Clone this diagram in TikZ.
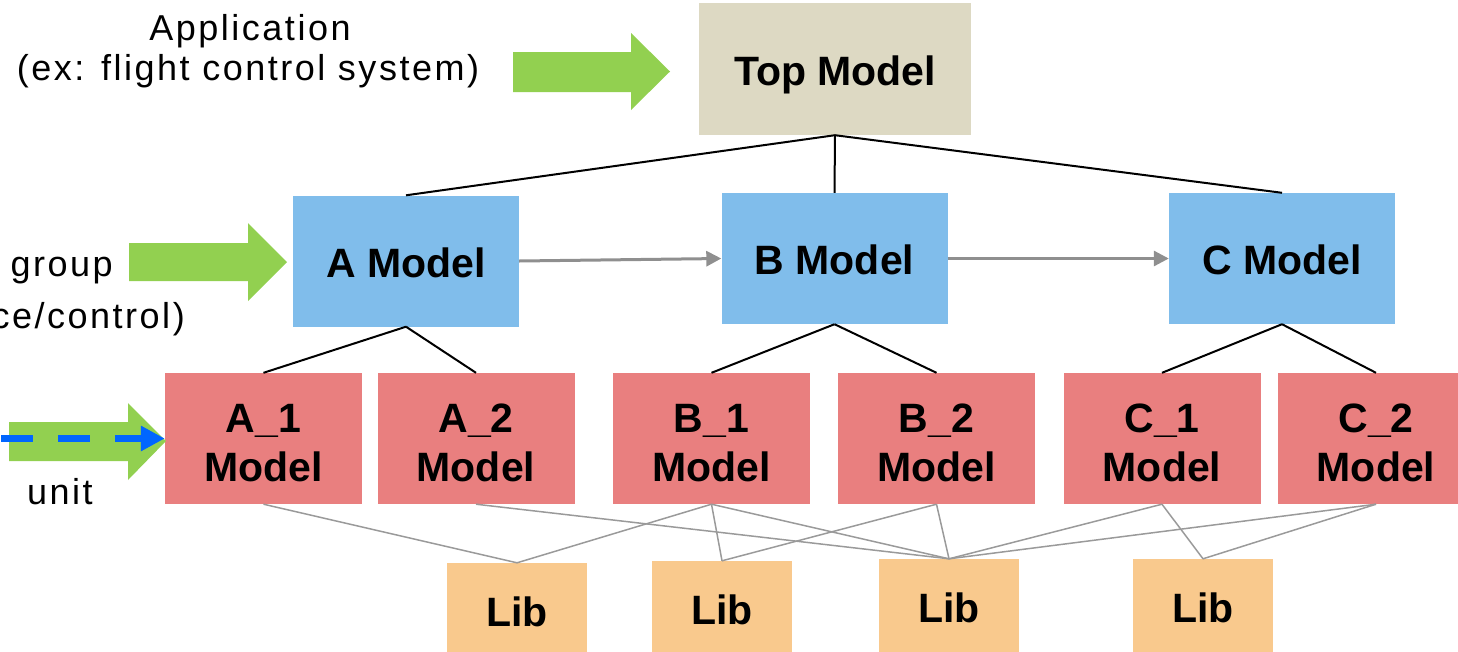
\documentclass[tikz,border=0pt]{standalone}
\usepackage{fontspec}
\setmainfont{Liberation Sans}
\newfontfamily\notefont[LetterSpace=7]{Liberation Sans}
\usetikzlibrary{arrows.meta}

\definecolor{topfill}{HTML}{DDD9C3}
\definecolor{grpfill}{HTML}{80BDEB}
\definecolor{unitfill}{HTML}{E97F7F}
\definecolor{libfill}{HTML}{F9C98D}
\definecolor{flowgreen}{HTML}{92D050}
\definecolor{flowblue}{HTML}{0066FF}
\definecolor{callgray}{HTML}{8F8F8F}
\definecolor{linkgray}{HTML}{9A9A9A}

\begin{document}
\begin{tikzpicture}[x=1pt,y=-1pt,
  box/.style={rectangle, inner sep=0pt, align=center,
    font=\fontsize{41}{49}\selectfont\bfseries},
  onebox/.style={box, text height=32pt, text depth=0pt},
  twobox/.style={box, text height=85pt, text depth=0pt},
  topbox/.style={onebox, fill=topfill, minimum width=272pt, minimum height=132pt},
  grpbox/.style={onebox, fill=grpfill, minimum width=226pt, minimum height=131pt},
  unitbox/.style={twobox, fill=unitfill, minimum width=197pt, minimum height=131pt},
  libbox/.style={onebox, fill=libfill, minimum width=140pt, minimum height=94pt},
  tree/.style={black, line width=2pt},
  call/.style={callgray, line width=3pt, -{Triangle[length=15pt,width=15pt]}},
  link/.style={linkgray, line width=1.5pt},
  blockarrow/.style={fill=flowgreen},
  note/.style={font=\fontsize{36}{42}\selectfont\notefont, inner sep=0pt},
]
\path[use as bounding box] (0,0) rectangle (1458,651);
\clip (0,0) rectangle (1458,651);

% model hierarchy
\node[topbox] (top) at (835,69) {Top Model};

\node[grpbox] (am) at (406,261)   {A Model};
\node[grpbox] (bm) at (834.5,258.5) {B Model};
\node[grpbox] (cm) at (1282,258.5) {C Model};

\node[unitbox] (a1) at (263.5,438.5) {A\_1\\Model};
\node[unitbox] (a2) at (476,438.5)   {A\_2\\Model};
\node[unitbox] (b1) at (711.5,438.5) {B\_1\\Model};
\node[unitbox] (b2) at (936.5,438.5) {B\_2\\Model};
\node[unitbox] (c1) at (1162,438.5)  {C\_1\\Model};
\node[unitbox] (c2) at (1376,438.5)  {C\_2\\Model};

\node[libbox] (lib1) at (517,610) {Lib};
\node[libbox] (lib2) at (722,608) {Lib};
\node[libbox] (lib3) at (949,606) {Lib};
\node[libbox] (lib4) at (1203,606) {Lib};

% tree links
\draw[tree] (top.south) -- (am.north);
\draw[tree] (top.south) -- (bm.north);
\draw[tree] (top.south) -- (cm.north);
\draw[tree] (am.south) -- (a1.north);
\draw[tree] (am.south) -- (a2.north);
\draw[tree] (bm.south) -- (b1.north);
\draw[tree] (bm.south) -- (b2.north);
\draw[tree] (cm.south) -- (c1.north);
\draw[tree] (cm.south) -- (c2.north);

% calls between group models
\draw[call] (am.east) -- (bm.west);
\draw[call] (bm.east) -- (cm.west);

% library usage
\draw[link] (a1.south) -- (lib1.north);
\draw[link] (a2.south) -- (lib3.north);
\draw[link] (b1.south) -- (lib1.north);
\draw[link] (b1.south) -- (lib2.north);
\draw[link] (b1.south) -- (lib3.north);
\draw[link] (b2.south) -- (lib2.north);
\draw[link] (b2.south) -- (lib3.north);
\draw[link] (c1.south) -- (lib3.north);
\draw[link] (c1.south) -- (lib4.north);
\draw[link] (c2.south) -- (lib3.north);
\draw[link] (c2.south) -- (lib4.north);

% level arrows
\fill[blockarrow] (513,52) -- (631,52) -- (631,33) -- (670,71.5) -- (631,110) -- (631,92) -- (513,92) -- cycle;
\fill[blockarrow] (129,243) -- (248,243) -- (248,223) -- (287,262) -- (248,301) -- (248,281) -- (129,281) -- cycle;
\fill[blockarrow] (9,422) -- (128,422) -- (128,403) -- (166,441) -- (128,480) -- (128,461) -- (9,461) -- cycle;

\coordinate (ustart) at (1,438.5);
\draw[flowblue, line width=7pt, dash pattern=on 32pt off 25pt,
  -{Triangle[length=24pt,width=24pt]}] (ustart) -- (a1.west);

% level captions
\node[note, anchor=base] (app) at (250,40) {Application};
\node[note, anchor=base] (appex) at (248,80) {(ex: flight control system)};
\node[note, anchor=base east] (grp) at (113,276) {group};
\node[note, anchor=base east] (grpex) at (185,328) {ce/control)};
\node[note, anchor=base] (unit) at (60,504) {unit};
\end{tikzpicture}
\end{document}
